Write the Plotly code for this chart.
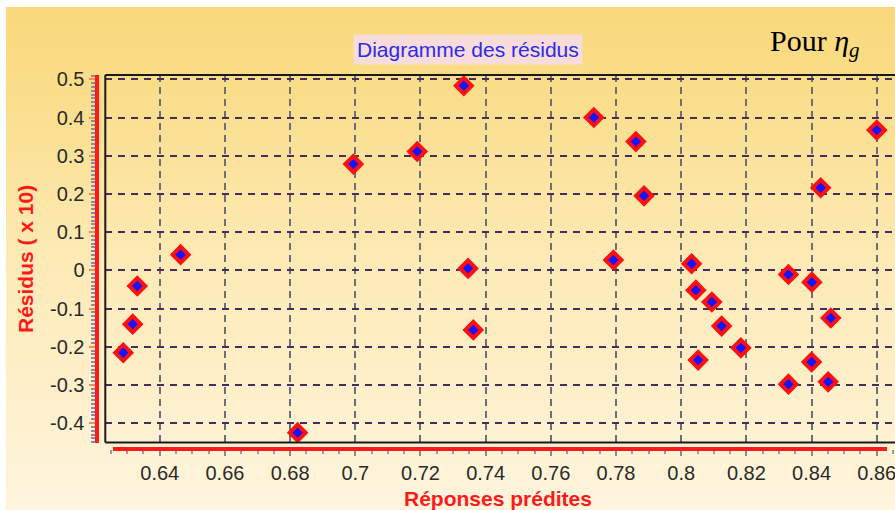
import base64
import plotly.graph_objects as go

# Predicted responses and residuals (x 10)
predicted = [0.6288, 0.6317, 0.6331, 0.6464, 0.6823, 0.6994, 0.7190, 0.7333,
             0.7346, 0.7362, 0.7732, 0.7792, 0.7861, 0.7886, 0.8032, 0.8045,
             0.8052, 0.8094, 0.8124, 0.8183, 0.8329, 0.8329, 0.8401, 0.8400,
             0.8428, 0.8451, 0.8459, 0.8600]
residuals = [-0.216, -0.141, -0.041, 0.041, -0.425, 0.278, 0.311, 0.483,
             0.005, -0.156, 0.400, 0.027, 0.337, 0.195, 0.017, -0.052,
             -0.235, -0.083, -0.146, -0.203, -0.011, -0.298, -0.031, -0.240,
             0.216, -0.292, -0.125, 0.367]

x_ticks = [0.64, 0.66, 0.68, 0.70, 0.72, 0.74, 0.76, 0.78, 0.80, 0.82, 0.84, 0.86]
x_ticktext = ["0.64", "0.66", "0.68", "0.7", "0.72", "0.74", "0.76", "0.78",
              "0.8", "0.82", "0.84", "0.86"]
y_ticks = [0.5, 0.4, 0.3, 0.2, 0.1, 0.0, -0.1, -0.2, -0.3, -0.4]
y_ticktext = ["0.5", "0.4", "0.3", "0.2", "0.1", "0", "-0.1", "-0.2", "-0.3", "-0.4"]

W, H = 895, 510

# Warm vertical gradient used as the page background
grad_svg = (
    '<svg xmlns="http://www.w3.org/2000/svg" width="100" height="100" '
    'viewBox="0 0 100 100" preserveAspectRatio="none">'
    '<defs><linearGradient id="g" x1="0" y1="0" x2="0" y2="1">'
    '<stop offset="0" stop-color="#F9D97C"/>'
    '<stop offset="0.15" stop-color="#FADD88"/>'
    '<stop offset="0.5" stop-color="#FDEAB5"/>'
    '<stop offset="1" stop-color="#FFF5DE"/>'
    '</linearGradient></defs>'
    '<rect x="0" y="0" width="100" height="100" fill="url(#g)"/></svg>'
)
grad_uri = "data:image/svg+xml;base64," + base64.b64encode(grad_svg.encode()).decode()

fig = go.Figure()
# Red diamond with a blue diamond on top of it at every point
fig.add_trace(go.Scatter(
    x=predicted, y=residuals, mode="markers",
    marker=dict(symbol="diamond", size=15, color="#FF1010",
                line=dict(color="#FF1010", width=1.5)),
    hoverinfo="skip", showlegend=False,
))
fig.add_trace(go.Scatter(
    x=predicted, y=residuals, mode="markers",
    marker=dict(symbol="diamond", size=8, color="#1414FF", line=dict(width=0)),
    hoverinfo="x+y", showlegend=False,
))

tick_font = dict(family="Liberation Sans, Arial, sans-serif", size=20, color="#2a2a2a")

fig.update_layout(
    width=W, height=H,
    margin=dict(l=0, r=0, t=0, b=0),
    paper_bgcolor="white",
    plot_bgcolor="rgba(0,0,0,0)",
    showlegend=False,
    xaxis=dict(
        domain=[105.3 / W, 1.0],
        range=[0.62329, 0.86560],
        anchor="free", position=(H - 449) / H,
        tickvals=x_ticks, ticktext=x_ticktext,
        ticks="outside", ticklen=6, tickwidth=1.5, tickcolor="#8a8a9a",
        minor=dict(dtick=0.005, tick0=0, ticks="outside", ticklen=4,
                   tickcolor="#9a9aaa", showgrid=False),
        showgrid=True, gridcolor="#6e6e78", gridwidth=1.5, griddash="7px,5px",
        showline=False, zeroline=False, automargin=False,
        ticklabeloverflow="allow",
        tickfont=tick_font,
    ),
    yaxis=dict(
        domain=[(H - 442.5) / H, (H - 75) / H],
        range=[-0.4508, 0.5113],
        anchor="free", position=96.5 / W,
        tickvals=y_ticks, ticktext=y_ticktext,
        ticks="outside", ticklen=6, tickwidth=1.5, tickcolor="#F0905A",
        minor=dict(dtick=0.01, tick0=0, ticks="outside", ticklen=4,
                   tickcolor="#8a8aa8", showgrid=False),
        showgrid=True, gridcolor="#4A2C5C", gridwidth=2.2, griddash="7px,6px",
        showline=True, linecolor="#FF1A1A", linewidth=4,
        zeroline=False, automargin=False,
        tickfont=tick_font,
    ),
    images=[dict(
        source=grad_uri, xref="paper", yref="paper",
        x=6 / W, y=1 - 7 / H, sizex=1 - 6 / W, sizey=1 - 7 / H,
        xanchor="left", yanchor="top", sizing="stretch", layer="below",
    )],
)

# Black frame on the left, top and bottom of the plotting area
frame = dict(color="#1a1a1a", width=2)
for x0, y0, x1, y1 in [(0, 0, 0, 1), (0, 1, 1, 1), (0, 0, 1, 0)]:
    fig.add_shape(type="line", xref="x domain", yref="y domain",
                  x0=x0, y0=y0, x1=x1, y1=y1, line=frame, layer="above")

# Red baseline of the horizontal axis
fig.add_shape(type="line", xref="paper", yref="paper",
              x0=113 / W, x1=887 / W, y0=(H - 449) / H, y1=(H - 449) / H,
              line=dict(color="#FF1A1A", width=4), layer="above")

# Chart title in a pink box
fig.add_annotation(
    text="Diagramme des résidus", xref="paper", yref="paper",
    x=468 / W, y=1 - 50 / H, xanchor="center", yanchor="middle",
    showarrow=False, bgcolor="#F8DCDA", borderpad=3,
    font=dict(family="Liberation Sans, Arial, sans-serif", size=21, color="#2B2BEF"),
)

fig.add_annotation(
    text="Pour <i>η<sub>g</sub></i>", xref="paper", yref="paper",
    x=862 / W, y=1 - 43 / H, xanchor="right", yanchor="middle",
    showarrow=False,
    font=dict(family="Liberation Serif, Times New Roman, serif", size=30, color="black"),
)

axis_title_font = dict(family="Liberation Sans, Arial, sans-serif", size=21, color="#FF1A1A")
fig.add_annotation(
    text="<b>Résidus ( x 10)</b>", xref="paper", yref="paper",
    x=25 / W, y=1 - 259 / H, xanchor="center", yanchor="middle",
    textangle=-90, showarrow=False, font=axis_title_font,
)
fig.add_annotation(
    text="<b>Réponses prédites</b>", xref="paper", yref="paper",
    x=498 / W, y=1 - 498 / H, xanchor="center", yanchor="middle",
    showarrow=False, font=axis_title_font,
)

fig.write_html("out.html")
